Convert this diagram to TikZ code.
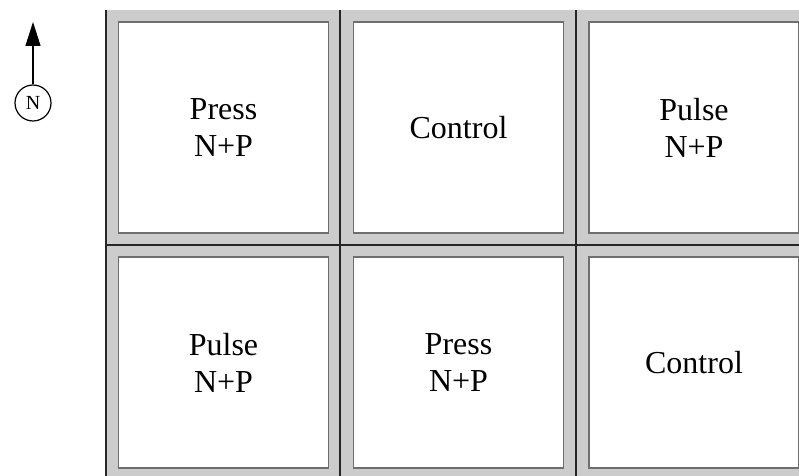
\documentclass[tikz,border=0pt]{standalone}
\usepackage{fontspec}
\setmainfont{Liberation Serif}
\usetikzlibrary{arrows.meta}
\definecolor{plotgray}{HTML}{CCCCCC}
\definecolor{boxedge}{HTML}{6E6E6E}
\begin{document}
\begin{tikzpicture}[x=1bp,y=-1bp,
  plotbox/.style={draw=boxedge, line width=1.8bp, fill=white, inner sep=0pt,
    minimum width=210bp, minimum height=211bp,
    font=\fontsize{32bp}{37bp}\selectfont, align=center},
  divider/.style={draw=black!85, line width=1.4bp},
  northmark/.style={circle, draw, line width=1.2bp, minimum size=36bp, inner sep=0pt,
    font=\fontsize{20bp}{24bp}\selectfont}]
\useasboundingbox (0,0) rectangle (799,476);
% grey field
\fill[plotgray] (105,10) rectangle (820,490);
% dividers
\draw[divider] (106,10) -- (106,476);
\draw[divider] (340,10) -- (340,476);
\draw[divider] (576,10) -- (576,476);
\draw[divider] (105,245) -- (799,245);
% plots
\node[plotbox] (pressA)   at (223.5,127.5) {Press\\N+P};
\node[plotbox] (controlA) at (458.5,127.5) {Control};
\node[plotbox] (pulseA)   at (694,127.5)   {Pulse\\N+P};
\node[plotbox] (pulseB)   at (223.5,362.5) {Pulse\\N+P};
\node[plotbox] (pressB)   at (458.5,362.5) {Press\\N+P};
\node[plotbox] (controlB) at (694,362.5)   {Control};
% north arrow
\node[northmark] (north) at (33,103) {N};
\coordinate (tip) at (33,22);
\draw[-{Triangle[length=24bp,width=15bp]}, line width=1.3bp] (north) -- (tip);
\end{tikzpicture}
\end{document}
